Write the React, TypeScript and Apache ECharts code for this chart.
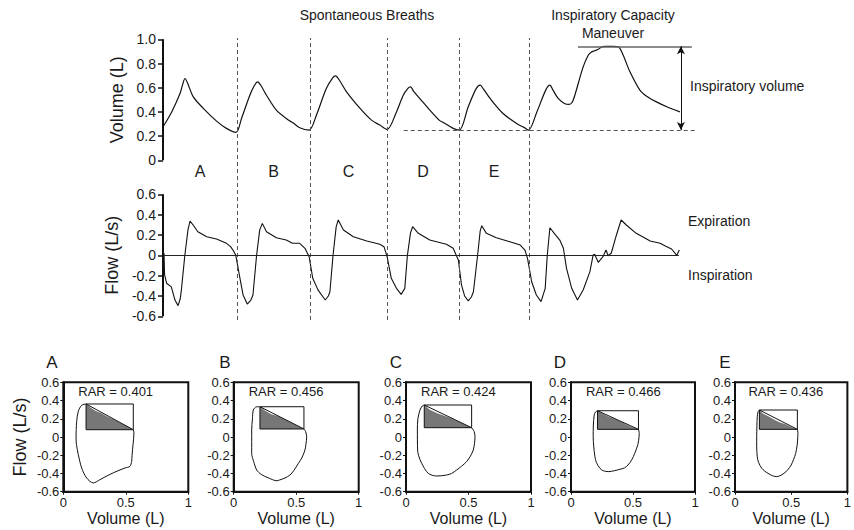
import React, { useEffect, useRef } from "react";
import * as echarts from "echarts";

const FONT = "'Liberation Sans', Arial, Helvetica, sans-serif";

// ---------- top traces: time (s) ----------
const volumeTime = [0, 0.167, 0.327, 0.38, 0.423, 0.47, 0.583, 0.775, 1.03, 1.22, 1.404, 1.51, 1.67, 1.76, 1.82, 1.88, 1.99, 2.18, 2.44, 2.5, 2.63, 2.81, 2.95, 3.14, 3.26, 3.32, 3.38, 3.53, 3.79, 4.01, 4.17, 4.31, 4.49, 4.62, 4.71, 4.76, 4.82, 5.0, 5.13, 5.31, 5.39, 5.58, 5.7, 5.87, 6.02, 6.1, 6.16, 6.29, 6.54, 6.8, 6.95, 7.03, 7.19, 7.36, 7.44, 7.5, 7.6, 7.72, 7.81, 7.87, 7.92, 8.08, 8.18, 8.24, 8.3, 8.37, 8.45, 8.53, 8.65, 8.76, 8.85, 8.98, 9.17, 9.3, 9.49, 9.7, 9.94];
const volumeValues = [0.277, 0.4, 0.552, 0.63, 0.676, 0.64, 0.524, 0.429, 0.324, 0.264, 0.231, 0.346, 0.538, 0.62, 0.648, 0.62, 0.538, 0.415, 0.324, 0.31, 0.269, 0.25, 0.373, 0.593, 0.68, 0.697, 0.67, 0.566, 0.429, 0.332, 0.291, 0.255, 0.4, 0.538, 0.595, 0.607, 0.57, 0.48, 0.415, 0.332, 0.313, 0.264, 0.25, 0.442, 0.59, 0.621, 0.59, 0.511, 0.387, 0.305, 0.27, 0.25, 0.4, 0.58, 0.621, 0.58, 0.511, 0.47, 0.462, 0.48, 0.538, 0.772, 0.87, 0.895, 0.905, 0.917, 0.94, 0.942, 0.942, 0.937, 0.868, 0.731, 0.58, 0.53, 0.483, 0.44, 0.4];

const flowTime = [0, 0.02, 0.03, 0.07, 0.16, 0.23, 0.29, 0.33, 0.35, 0.42, 0.48, 0.52, 0.58, 0.67, 0.84, 1.03, 1.22, 1.3, 1.36, 1.4, 1.48, 1.54, 1.62, 1.69, 1.73, 1.8, 1.86, 1.91, 1.99, 2.18, 2.37, 2.49, 2.63, 2.73, 2.81, 2.88, 2.98, 3.12, 3.18, 3.21, 3.27, 3.33, 3.37, 3.47, 3.66, 3.92, 4.17, 4.25, 4.31, 4.39, 4.49, 4.58, 4.65, 4.7, 4.76, 4.8, 4.91, 5.13, 5.45, 5.58, 5.68, 5.74, 5.8, 5.87, 5.93, 5.97, 6.05, 6.1, 6.13, 6.22, 6.41, 6.67, 6.87, 6.96, 7.01, 7.09, 7.18, 7.27, 7.35, 7.39, 7.44, 7.54, 7.63, 7.7, 7.76, 7.86, 7.97, 8.08, 8.21, 8.27, 8.3, 8.37, 8.46, 8.52, 8.56, 8.62, 8.72, 8.81, 8.91, 9.1, 9.37, 9.56, 9.65, 9.78, 9.88, 9.93];
const flowValues = [0, 0.02, -0.19, -0.275, -0.31, -0.44, -0.495, -0.43, -0.358, 0, 0.25, 0.337, 0.298, 0.232, 0.183, 0.16, 0.118, 0.085, 0.04, 0, -0.226, -0.39, -0.48, -0.44, -0.39, 0, 0.25, 0.314, 0.232, 0.173, 0.15, 0.118, 0.118, 0.069, -0.014, -0.226, -0.34, -0.44, -0.4, -0.358, 0, 0.28, 0.347, 0.249, 0.183, 0.141, 0.108, 0.085, -0.014, -0.226, -0.325, -0.384, -0.325, 0, 0.22, 0.281, 0.216, 0.15, 0.108, 0.069, -0.046, -0.29, -0.4, -0.449, -0.41, -0.358, 0, 0.24, 0.291, 0.216, 0.173, 0.134, 0.101, 0.052, -0.03, -0.26, -0.39, -0.456, -0.325, 0, 0.271, 0.206, 0.15, 0.069, -0.128, -0.325, -0.44, -0.341, -0.161, 0, 0.01, -0.069, -0.014, 0.052, -0.004, 0.02, 0.2, 0.347, 0.298, 0.216, 0.141, 0.118, 0.094, 0.062, 0, 0.052];

const breathBoundaries = [0, 1.423, 2.827, 4.308, 5.692, 7.038];
const breathLabels = ["A", "B", "C", "D", "E"];
const volumeTicks = [0, 0.2, 0.4, 0.6, 0.8, 1.0];
const flowTicks = [-0.6, -0.4, -0.2, 0, 0.2, 0.4, 0.6];

const baselineVolume = 0.25;
const baselineSpan = [4.63, 10.25];
const icPeakVolume = 0.942;
const icPeakSpan = [7.98, 10.17];
const arrowTime = 9.96;
const flowZeroEnd = 9.92;

// ---------- flow-volume loops ----------
const rarValues = [0.401, 0.456, 0.424, 0.466, 0.436];
const loopLimbA = [[0.182, 0.362], [0.22, 0.32], [0.26, 0.285], [0.3, 0.262], [0.35, 0.225], [0.4, 0.195], [0.45, 0.16], [0.5, 0.125], [0.56, 0.08]];
const loopRestA = [[0.56, 0.08], [0.565, 0.045], [0.558, -0.08], [0.55, -0.2], [0.547, -0.267], [0.533, -0.322], [0.493, -0.34], [0.43, -0.375], [0.373, -0.41], [0.293, -0.468], [0.24, -0.504], [0.187, -0.45], [0.147, -0.34], [0.12, -0.194], [0.105, -0.08], [0.102, -0.011], [0.107, 0.172], [0.12, 0.282], [0.147, 0.348], [0.182, 0.362]];
const loopLimbB = [[0.21, 0.332], [0.25, 0.29], [0.3, 0.25], [0.35, 0.23], [0.4, 0.2], [0.45, 0.165], [0.5, 0.13], [0.562, 0.088]];
const loopRestB = [[0.562, 0.088], [0.575, 0.06], [0.584, 0.003], [0.578, -0.08], [0.57, -0.143], [0.545, -0.23], [0.517, -0.29], [0.48, -0.37], [0.45, -0.417], [0.41, -0.45], [0.37, -0.47], [0.345, -0.48], [0.28, -0.45], [0.22, -0.41], [0.184, -0.362], [0.16, -0.27], [0.144, -0.18], [0.144, -0.05], [0.144, 0.077], [0.15, 0.2], [0.157, 0.296], [0.18, 0.33], [0.21, 0.332]];
const loopLimbC = [[0.146, 0.351], [0.19, 0.3], [0.25, 0.26], [0.3, 0.235], [0.35, 0.21], [0.4, 0.18], [0.45, 0.15], [0.525, 0.102]];
const loopRestC = [[0.525, 0.102], [0.545, 0.06], [0.552, 0.003], [0.548, -0.07], [0.538, -0.143], [0.515, -0.21], [0.485, -0.27], [0.445, -0.32], [0.405, -0.362], [0.365, -0.4], [0.325, -0.417], [0.245, -0.428], [0.178, -0.398], [0.125, -0.288], [0.1, -0.2], [0.093, -0.143], [0.091, 0.077], [0.095, 0.2], [0.112, 0.296], [0.13, 0.34], [0.146, 0.351]];
const loopLimbD = [[0.214, 0.288], [0.25, 0.26], [0.3, 0.225], [0.35, 0.2], [0.4, 0.17], [0.45, 0.135], [0.5, 0.105], [0.544, 0.084]];
const loopRestD = [[0.544, 0.084], [0.55, 0.04], [0.549, 0.003], [0.54, -0.08], [0.514, -0.179], [0.49, -0.25], [0.46, -0.307], [0.43, -0.34], [0.394, -0.354], [0.35, -0.37], [0.3, -0.38], [0.26, -0.37], [0.233, -0.343], [0.205, -0.28], [0.193, -0.216], [0.183, -0.1], [0.179, 0.003], [0.18, 0.12], [0.187, 0.241], [0.198, 0.275], [0.214, 0.288]];
const loopLimbE = [[0.217, 0.296], [0.25, 0.255], [0.3, 0.225], [0.35, 0.19], [0.4, 0.16], [0.45, 0.14], [0.5, 0.11], [0.555, 0.084]];
const loopRestE = [[0.555, 0.084], [0.56, 0.04], [0.559, 0.003], [0.553, -0.09], [0.54, -0.179], [0.52, -0.25], [0.5, -0.307], [0.47, -0.36], [0.436, -0.398], [0.4, -0.425], [0.37, -0.435], [0.335, -0.425], [0.304, -0.406], [0.265, -0.375], [0.238, -0.343], [0.21, -0.28], [0.198, -0.216], [0.193, -0.1], [0.193, 0.003], [0.195, 0.12], [0.198, 0.223], [0.205, 0.275], [0.217, 0.296]];
const rarLabelPos = [0.12, 0.5];
const loopXTicks = [0, 0.5, 1];

const loopLimbs = [loopLimbA, loopLimbB, loopLimbC, loopLimbD, loopLimbE];
const loopRests = [loopRestA, loopRestB, loopRestC, loopRestD, loopRestE];

// layout (pixels)
const TOP_LEFT = 163; // pixel position of t = 0
const T_MAX = 10.3;
const PX_PER_S = 52;
const TICK_PX = 5;
const T_MIN = -TICK_PX / PX_PER_S; // room for outward ticks inside the trace grids
const VOL_GRID = { top: 39.3, height: 121 };
const FLOW_GRID = { top: 194.3, height: 122 };
const loopGrids = [
  { left: 63.3, width: 125 },
  { left: 233.7, width: 125 },
  { left: 406, width: 125 },
  { left: 571, width: 124 },
  { left: 735, width: 126 },
];
const loopLetterX = [52, 225, 396, 560, 725];

const fmt = (v: number) => (Math.abs(v) < 1e-9 ? "0" : v.toFixed(1));
const INK = "#1a1a1a";

export default function App() {
  const ref = useRef<HTMLDivElement>(null);
  useEffect(() => {
    if (!ref.current) return;
    const chart = echarts.init(ref.current, undefined, { renderer: "svg" });
    const txt = { fontFamily: FONT, color: INK };
    const traceLeft = TOP_LEFT - TICK_PX;
    const traceWidth = (T_MAX - T_MIN) * PX_PER_S;
    const grids: any[] = [
      { left: TOP_LEFT, top: 38, width: T_MAX * PX_PER_S, height: 282 },
      { left: traceLeft, top: VOL_GRID.top, width: traceWidth, height: VOL_GRID.height },
      { left: traceLeft, top: FLOW_GRID.top, width: traceWidth, height: FLOW_GRID.height },
    ];
    loopGrids.forEach((g) =>
      grids.push({ left: g.left, width: g.width, top: 382.3, height: 109.4, show: true, borderColor: "#111", borderWidth: 2, backgroundColor: "transparent" })
    );
    const xAxes: any[] = [0, 1, 2].map((i) => ({
      gridIndex: i, type: "value", min: i === 0 ? 0 : T_MIN, max: T_MAX, show: false,
      axisLine: { show: false }, axisTick: { show: false }, axisLabel: { show: false }, splitLine: { show: false },
    }));
    const topY = (min: number, max: number, name: string) => ({
      type: "value", min, max, interval: 0.2, position: "left",
      axisLine: { show: false }, axisTick: { show: false },
      axisLabel: { ...txt, fontSize: 14, margin: 2, formatter: fmt },
      splitLine: { show: false },
      name, nameLocation: "middle", nameGap: 31,
      nameTextStyle: { ...txt, fontSize: 18 },
    });
    const yAxes: any[] = [
      { gridIndex: 0, type: "value", min: 0, max: 1, show: false },
      { gridIndex: 1, ...topY(volumeTicks[0], volumeTicks[volumeTicks.length - 1], "Volume (L)") },
      { gridIndex: 2, ...topY(flowTicks[0], flowTicks[flowTicks.length - 1], "Flow (L/s)") },
    ];
    loopGrids.forEach((g, i) => {
      xAxes.push({
        gridIndex: 3 + i, type: "value", min: 0, max: 1, interval: 0.5,
        axisLine: { show: true, onZero: false, lineStyle: { color: "#111", width: 2 } },
        axisTick: { show: true, length: 3, lineStyle: { color: "#111" } },
        axisLabel: { ...txt, fontSize: 13, margin: 4, formatter: (v: number) => (loopXTicks.includes(v) ? String(v) : "") },
        splitLine: { show: false },
        name: "Volume (L)", nameLocation: "middle", nameGap: 19,
        nameTextStyle: { ...txt, fontSize: 16 },
      });
      yAxes.push({
        gridIndex: 3 + i, type: "value", min: -0.6, max: 0.6, interval: 0.2,
        axisLine: { show: true, onZero: false, lineStyle: { color: "#111", width: 2 } },
        axisTick: { show: true, length: 3, lineStyle: { color: "#111" } },
        axisLabel: { ...txt, fontSize: 13, margin: 4, formatter: fmt },
        splitLine: { show: false },
        name: i === 0 ? "Flow (L/s)" : "", nameLocation: "middle", nameGap: 34,
        nameTextStyle: { ...txt, fontSize: 18 },
      });
    });

    const series: any[] = [];
    // overlay: breath boundaries and letters
    series.push({
      type: "scatter", xAxisIndex: 0, yAxisIndex: 0, symbolSize: 0, silent: true,
      itemStyle: { opacity: 1 },
      data: breathLabels.map((n, i) => ({ name: n, value: [(breathBoundaries[i] + breathBoundaries[i + 1]) / 2, 0.525] })),
      label: { show: true, position: "inside", formatter: "{b}", ...txt, fontSize: 16 },
      markLine: {
        silent: true, symbol: "none", label: { show: false },
        lineStyle: { color: "#555", width: 1, type: [4, 3] },
        data: breathBoundaries.slice(1).map((b) => ({ xAxis: b })),
      },
    });
    series.push({
      type: "line", xAxisIndex: 1, yAxisIndex: 1, symbol: "none", smooth: 0.3,
      lineStyle: { color: "#111", width: 1.2 },
      data: volumeTime.map((t, i) => [t, volumeValues[i]]),
      markLine: {
        silent: true, symbol: "none", label: { show: false },
        data: [
          [{ coord: [baselineSpan[0], baselineVolume], lineStyle: { color: "#555", width: 1, type: [4, 3] } }, { coord: [baselineSpan[1], baselineVolume] }],
          [{ coord: [icPeakSpan[0], icPeakVolume], lineStyle: { color: "#666", width: 1.5, type: "solid" } }, { coord: [icPeakSpan[1], icPeakVolume] }],
        ],
      },
    });
    series.push({
      type: "line", xAxisIndex: 1, yAxisIndex: 1, data: [], symbol: "none",
      markLine: {
        silent: true, symbol: ["arrow", "arrow"], symbolSize: [6, 8], label: { show: false },
        lineStyle: { color: "#111", width: 1, type: "solid" },
        data: [[{ coord: [arrowTime, icPeakVolume] }, { coord: [arrowTime, baselineVolume] }]],
      },
    });
    series.push({
      type: "line", xAxisIndex: 2, yAxisIndex: 2, symbol: "none",
      lineStyle: { color: "#111", width: 1.1 },
      data: flowTime.map((t, i) => [t, flowValues[i]]),
      markLine: {
        silent: true, symbol: "none", label: { show: false },
        lineStyle: { color: "#222", width: 1, type: "solid" },
        data: [[{ coord: [0, 0] }, { coord: [flowZeroEnd, 0] }]],
      },
    });
    // y axes of the trace panels: spine at t = 0 plus outward ticks, as mark lines through the axes' scales
    [
      { idx: 1, ticks: volumeTicks },
      { idx: 2, ticks: flowTicks },
    ].forEach(({ idx, ticks }) => {
      const lo = ticks[0];
      const hi = ticks[ticks.length - 1];
      series.push({
        type: "line", xAxisIndex: idx, yAxisIndex: idx, data: [], symbol: "none",
        markLine: {
          silent: true, symbol: "none", label: { show: false },
          lineStyle: { color: "#111", width: 1.5, type: "solid" },
          data: [
            [{ coord: [0, lo], lineStyle: { color: "#111", width: 2, type: "solid" } }, { coord: [0, hi] }],
            ...ticks.map((v) => [{ coord: [T_MIN, v] }, { coord: [0, v] }]),
          ],
        },
      });
    });

    loopLimbs.forEach((limb, i) => {
      const g = 3 + i;
      const peak = limb[0];
      const end = limb[limb.length - 1];
      series.push({
        type: "line", xAxisIndex: g, yAxisIndex: g, symbol: "none", silent: true,
        data: limb, lineStyle: { width: 0, color: "#777" },
        areaStyle: { color: "#777", opacity: 1, origin: end[1] },
      });
      series.push({
        type: "line", xAxisIndex: g, yAxisIndex: g, symbol: "none", silent: true,
        lineStyle: { color: "#111", width: 1 },
        data: [[peak[0], end[1]], [end[0], end[1]], [end[0], peak[1]], [peak[0], peak[1]], [peak[0], end[1]]],
      });
      series.push({
        type: "line", xAxisIndex: g, yAxisIndex: g, symbol: "none", silent: true,
        lineStyle: { color: "#111", width: 1 }, data: [peak, end],
      });
      series.push({
        type: "line", xAxisIndex: g, yAxisIndex: g, symbol: "none", silent: true, smooth: 0.3,
        lineStyle: { color: "#111", width: 1 }, data: loopRests[i],
      });
      series.push({
        type: "scatter", xAxisIndex: g, yAxisIndex: g, symbolSize: 0, silent: true,
        itemStyle: { opacity: 1 },
        data: [{ name: `RAR = ${rarValues[i].toFixed(3)}`, value: rarLabelPos }],
        label: { show: true, position: "right", distance: 0, formatter: "{b}", ...txt, fontSize: 13 },
      });
    });

    const t = (text: string, x: number, y: number, size: number, align = "center", extra: any = {}) => ({
      type: "text", x, y, silent: true,
      style: { text, fill: INK, fontFamily: FONT, fontSize: size, align, verticalAlign: "middle", ...extra },
    });
    const graphic: any[] = [
      t("Spontaneous Breaths", 367, 15, 14),
      t("Inspiratory Capacity\nManeuver", 613, 24, 14, "center", { lineHeight: 18 }),
      t("Inspiratory volume", 690, 86, 14, "left"),
      t("Expiration", 688, 221, 14, "left"),
      t("Inspiration", 688, 275, 14, "left"),
    ];
    breathLabels.forEach((n, i) => graphic.push(t(n, loopLetterX[i], 362, 17)));

    chart.setOption({
      animation: false,
      backgroundColor: "#fff",
      grid: grids,
      xAxis: xAxes,
      yAxis: yAxes,
      series,
      graphic,
    });
    return () => chart.dispose();
  }, []);
  return <div ref={ref} style={{ position: "absolute", left: 0, top: 0, width: 854, height: 530 }} />;
}
